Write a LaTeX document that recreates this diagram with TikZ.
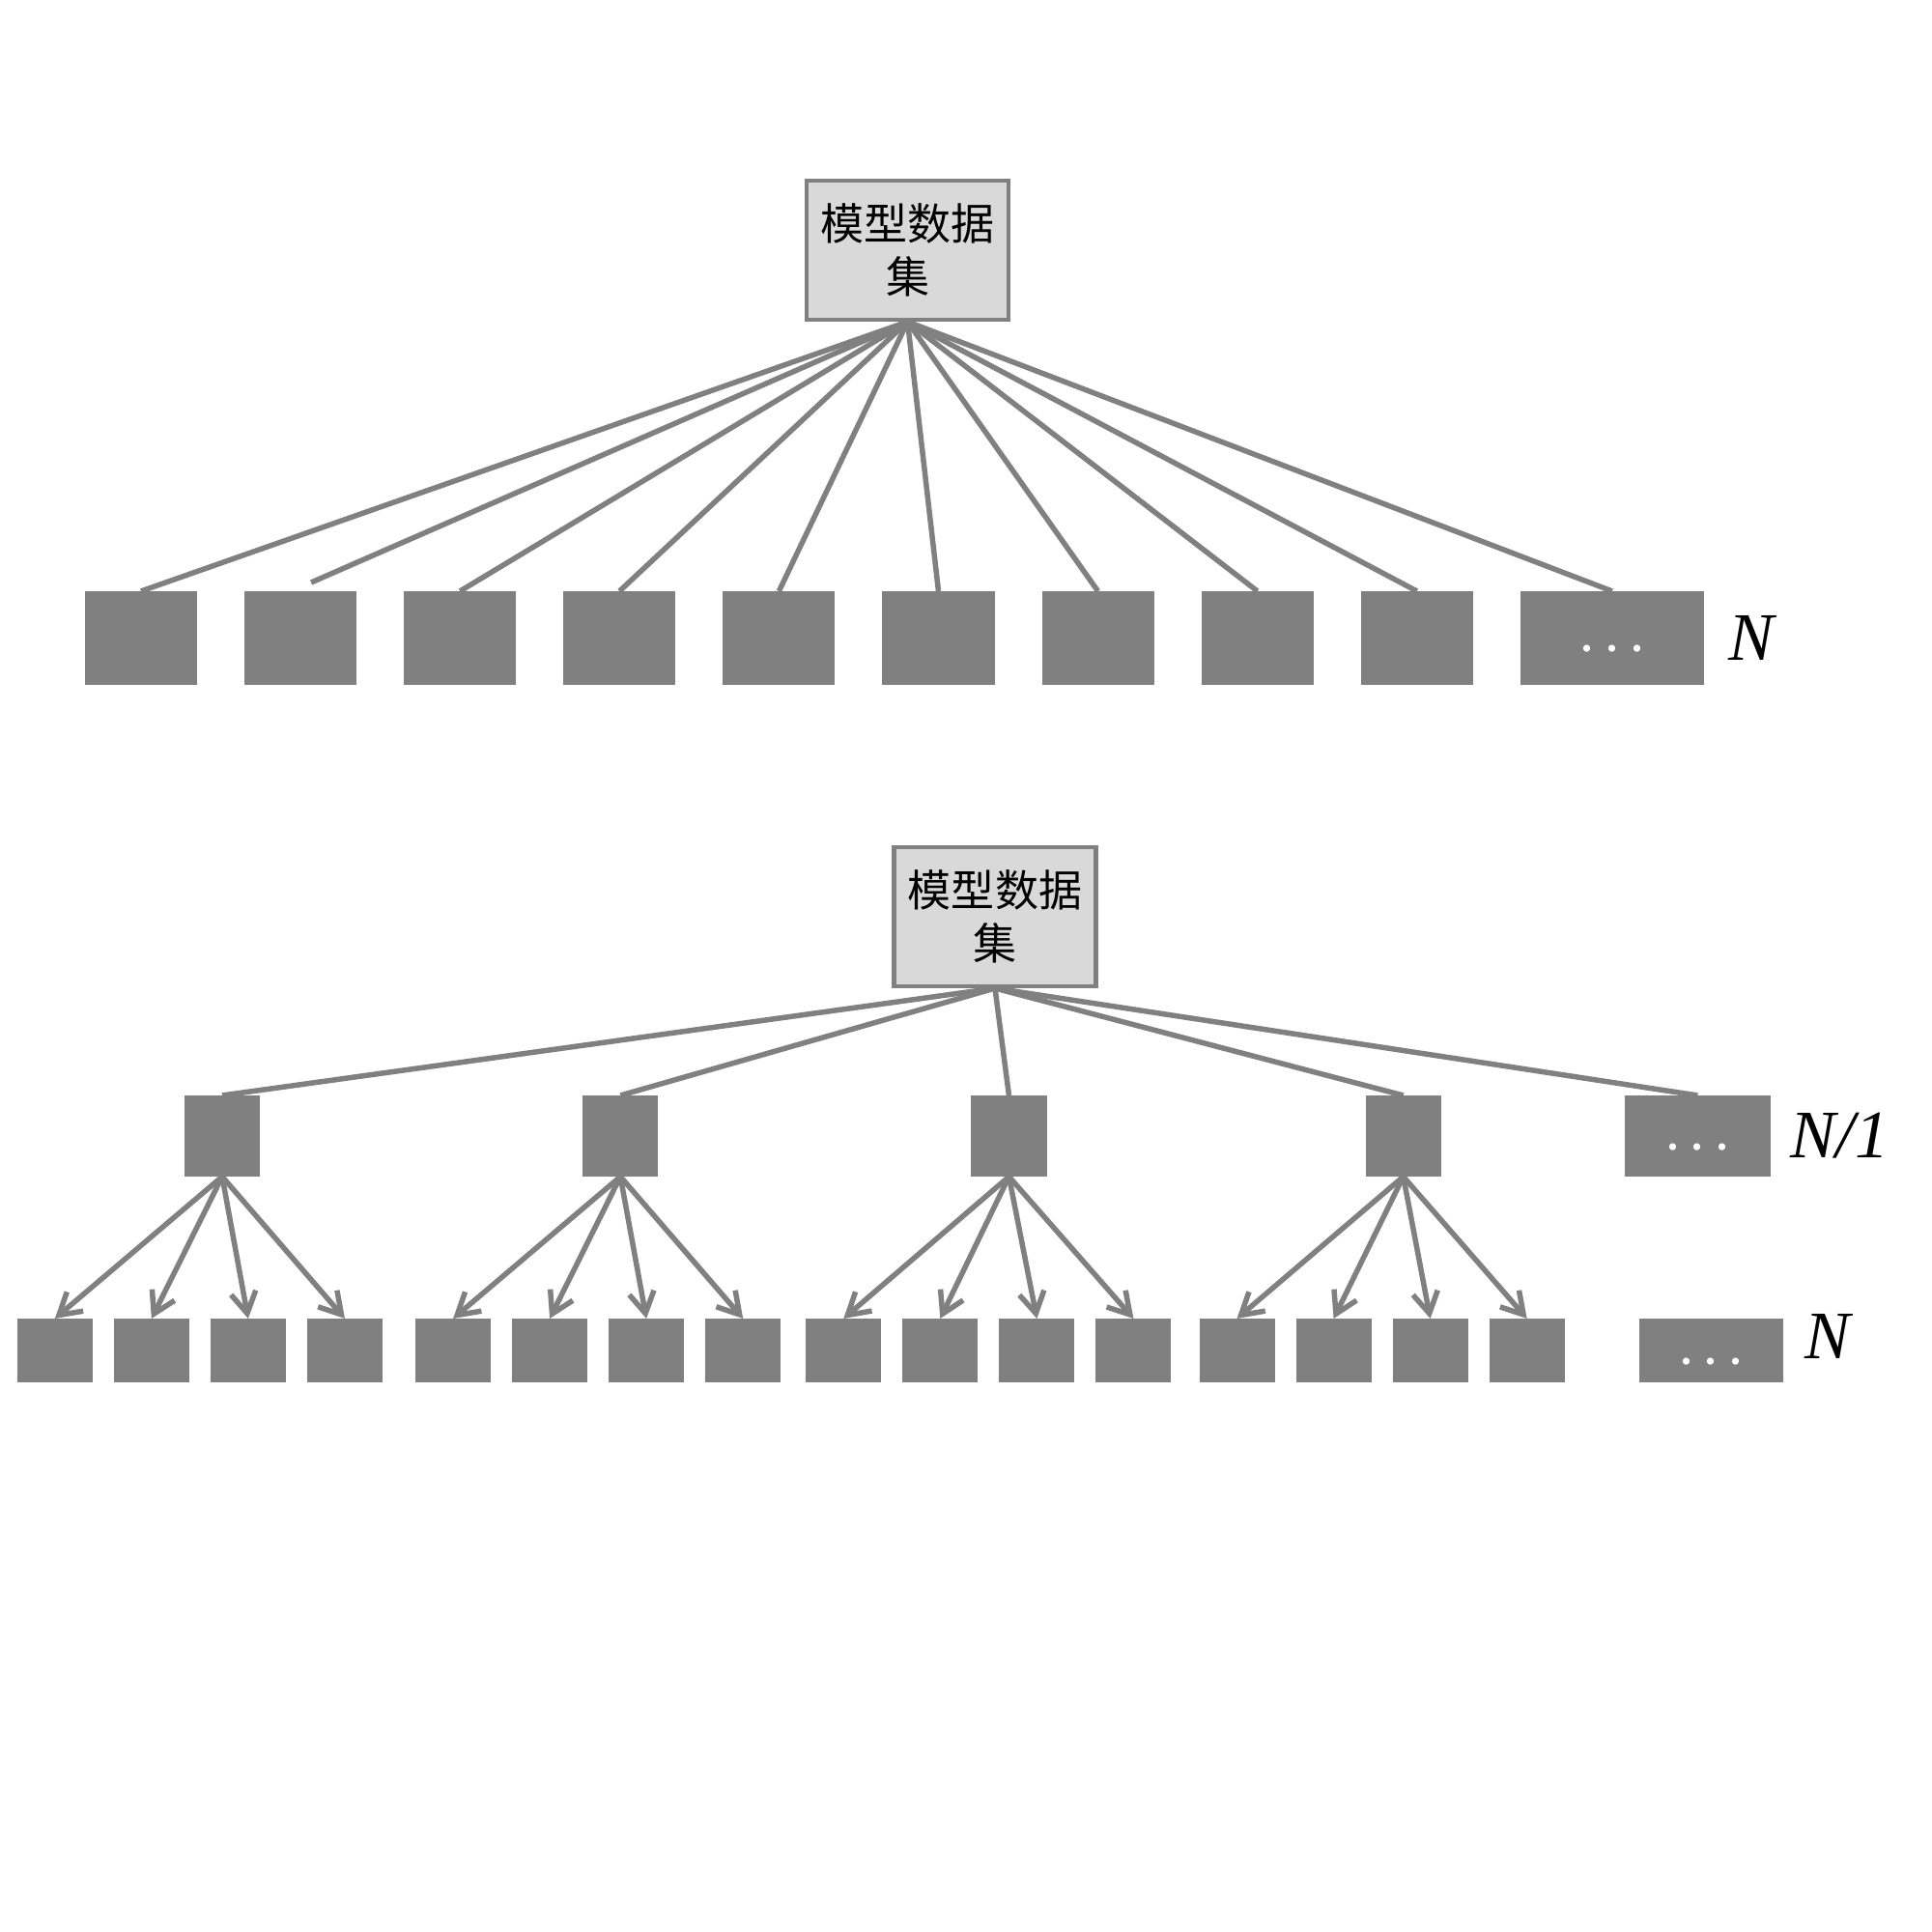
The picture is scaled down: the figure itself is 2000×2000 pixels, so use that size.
\documentclass[tikz,border=0pt]{standalone}
\usepackage{fontspec}
\setmainfont{Liberation Serif}
\newfontfamily\cjk{Noto Sans CJK SC}
\usepackage{tikz}
\usetikzlibrary{arrows.meta, positioning}

\definecolor{linegray}{RGB}{128,128,128}
\definecolor{rootfill}{RGB}{217,217,217}

\begin{document}
\begin{tikzpicture}[
        x=0.01cm, y=-0.01cm,
        dataset/.style={rectangle, draw=linegray, fill=rootfill, line width=0.45mm, minimum width=2.085cm, minimum height=1.435cm, inner sep=0pt, align=center, font=\cjk\fontsize{12.8}{15.6}\selectfont},
        block/.style={rectangle, fill=linegray, inner sep=0pt, outer sep=0pt, minimum width=1.16cm, minimum height=0.97cm},
        subblock/.style={block, minimum width=0.78cm, minimum height=0.84cm},
        leaf/.style={block, minimum width=0.78cm, minimum height=0.66cm},
        more/.style={text=white, font=\fontsize{12.5}{15}\selectfont\bfseries, text height=8pt, text depth=0pt},
        count/.style={font=\fontsize{20}{24}\selectfont\itshape, inner sep=0pt},
        line/.style={line width=0.55mm, draw=linegray},
        arrow/.style={line, -{Straight Barb[length=2.2mm, width=2.6mm]}}
    ]
    \useasboundingbox (0,0) rectangle (2000,2000);

    % Flat layout
    \node[dataset] (root1) at (939.5,259) {模型数据\\集};
    \node[block] (t1) at (146,660.5) {};
    \node[block, right=0.49cm of t1] (t2) {};
    \node[block, right=0.49cm of t2] (t3) {};
    \node[block, right=0.49cm of t3] (t4) {};
    \node[block, right=0.49cm of t4] (t5) {};
    \node[block, right=0.49cm of t5] (t6) {};
    \node[block, right=0.49cm of t6] (t7) {};
    \node[block, right=0.49cm of t7] (t8) {};
    \node[block, right=0.49cm of t8] (t9) {};
    \node[block, more, minimum width=1.90cm, right=0.49cm of t9] (t10) {. . .};
    \node[count, right=0.25cm of t10] (nTop) {N};
    \coordinate (t2end) at ([shift={(0.11cm,0.09cm)}]t2.north);

    % Two-level layout
    \node[dataset] (root2) at (1030,949) {模型数据\\集};
    \node[subblock] (m1) at (230,1176) {};
    \node[subblock, right=3.34cm of m1] (m2) {};
    \node[subblock, right=3.24cm of m2] (m3) {};
    \node[subblock, right=3.30cm of m3] (m4) {};
    \node[subblock, more, minimum width=1.51cm, right=1.90cm of m4] (m5) {. . .};
    \node[count, right=0.2cm of m5] (nMid) {N/1};

    \node[leaf] (b1) at (56.8,1398) {};
    \node[leaf, right=0.22cm of b1] (b2) {};
    \node[leaf, right=0.22cm of b2] (b3) {};
    \node[leaf, right=0.22cm of b3] (b4) {};
    \node[leaf, right=0.34cm of b4] (b5) {};
    \node[leaf, right=0.22cm of b5] (b6) {};
    \node[leaf, right=0.22cm of b6] (b7) {};
    \node[leaf, right=0.22cm of b7] (b8) {};
    \node[leaf, right=0.26cm of b8] (b9) {};
    \node[leaf, right=0.22cm of b9] (b10) {};
    \node[leaf, right=0.22cm of b10] (b11) {};
    \node[leaf, right=0.22cm of b11] (b12) {};
    \node[leaf, right=0.29cm of b12] (b13) {};
    \node[leaf, right=0.22cm of b13] (b14) {};
    \node[leaf, right=0.22cm of b14] (b15) {};
    \node[leaf, right=0.22cm of b15] (b16) {};
    \node[leaf, more, minimum width=1.49cm, right=0.77cm of b16] (bw) {. . .};
    \node[count, right=0.22cm of bw, yshift=0.15cm] (nBot) {N};

    % Connections
    \foreach \t in {t1,t3,t4,t5,t6,t7,t8,t9,t10}
        \draw[line] (root1.south) -- (\t.north);
    \draw[line] (root1.south) -- (t2end);
    \foreach \m in {m1,m2,m3,m4,m5}
        \draw[line] (root2.south) -- (\m.north);
    \foreach \m [count=\g from 0] in {m1,m2,m3,m4}
        \foreach \k in {1,...,4} {
            \pgfmathtruncatemacro\i{4*\g+\k}
            \draw[arrow] (\m.south) -- (b\i.north);
        }

\end{tikzpicture}
\end{document}
